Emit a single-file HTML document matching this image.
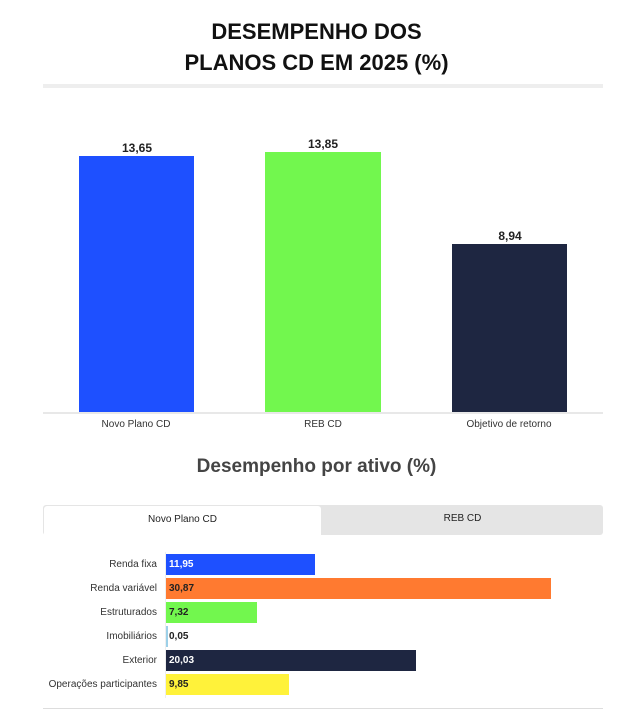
<!DOCTYPE html>
<html><head><meta charset="utf-8"><style>
body{margin:0;width:633px;height:717px;background:#fff;font-family:"Liberation Sans",sans-serif;position:relative;overflow:hidden}
.a{position:absolute}
.t{left:0;width:633px;text-align:center;font-weight:bold;font-size:22px;color:#111}
.v{font-size:12px;font-weight:bold;color:#222;text-align:center;width:116px}
.xl{font-size:10px;color:#333;text-align:center;width:160px;top:419px}
.lab{font-size:10px;color:#333;right:476px;text-align:right;white-space:nowrap;line-height:21px}
.hb{left:166px;height:21px;font-size:10px;font-weight:bold;line-height:21px;padding-left:3px;box-sizing:border-box}
</style></head><body>
<div class="a t" style="top:19px">DESEMPENHO DOS</div>
<div class="a t" style="top:50px">PLANOS CD EM 2025 (%)</div>
<div class="a" style="left:43px;top:84px;width:560px;height:4px;background:#eee"></div>

<div class="a v" style="left:79px;top:141px">13,65</div>
<div class="a" style="left:79px;top:156px;width:115px;height:256px;background:#1e50ff"></div>
<div class="a v" style="left:265px;top:137px">13,85</div>
<div class="a" style="left:265px;top:152px;width:116px;height:260px;background:#72f74e"></div>
<div class="a v" style="left:452px;top:229px">8,94</div>
<div class="a" style="left:452px;top:244px;width:115px;height:168px;background:#1e2641"></div>
<div class="a" style="left:43px;top:412px;width:560px;height:2px;background:#e8e8e8"></div>
<div class="a xl" style="left:56px">Novo Plano CD</div>
<div class="a xl" style="left:243px">REB CD</div>
<div class="a xl" style="left:429px">Objetivo de retorno</div>

<div class="a" style="left:0;width:633px;top:456px;text-align:center;font-size:19px;font-weight:bold;color:#444">Desempenho por ativo (%)</div>

<div class="a" style="left:43px;top:505px;width:560px;height:30px;background:#e5e5e5;border-radius:3px"></div>
<div class="a" style="left:44px;top:506px;width:277px;height:30px;background:#fff;border-radius:3px 3px 0 0;text-align:center;line-height:28px;font-size:10px;color:#222">Novo Plano CD</div>
<div class="a" style="left:322px;top:505px;width:281px;line-height:28px;text-align:center;font-size:10px;color:#222">REB CD</div>

<div class="a" style="left:165px;top:552px;width:1px;height:146px;background:#eee"></div>
<div class="a lab" style="top:554px">Renda fixa</div>
<div class="a hb" style="top:554px;width:149px;background:#1e50ff;color:#fff">11,95</div>
<div class="a lab" style="top:578px">Renda variável</div>
<div class="a hb" style="top:578px;width:385px;background:#ff7a30;color:#222">30,87</div>
<div class="a lab" style="top:602px">Estruturados</div>
<div class="a hb" style="top:602px;width:91px;background:#72f74e;color:#222">7,32</div>
<div class="a lab" style="top:626px">Imobiliários</div>
<div class="a hb" style="top:626px;width:2px;padding:0;background:#9cd0e8"></div>
<div class="a" style="left:169px;top:626px;line-height:21px;font-size:10px;font-weight:bold;color:#222">0,05</div>
<div class="a lab" style="top:650px">Exterior</div>
<div class="a hb" style="top:650px;width:250px;background:#1e2641;color:#fff">20,03</div>
<div class="a lab" style="top:674px">Operações participantes</div>
<div class="a hb" style="top:674px;width:123px;background:#fff23a;color:#222">9,85</div>
<div class="a" style="left:43px;top:708px;width:560px;height:1px;background:#ddd"></div>
</body></html>
